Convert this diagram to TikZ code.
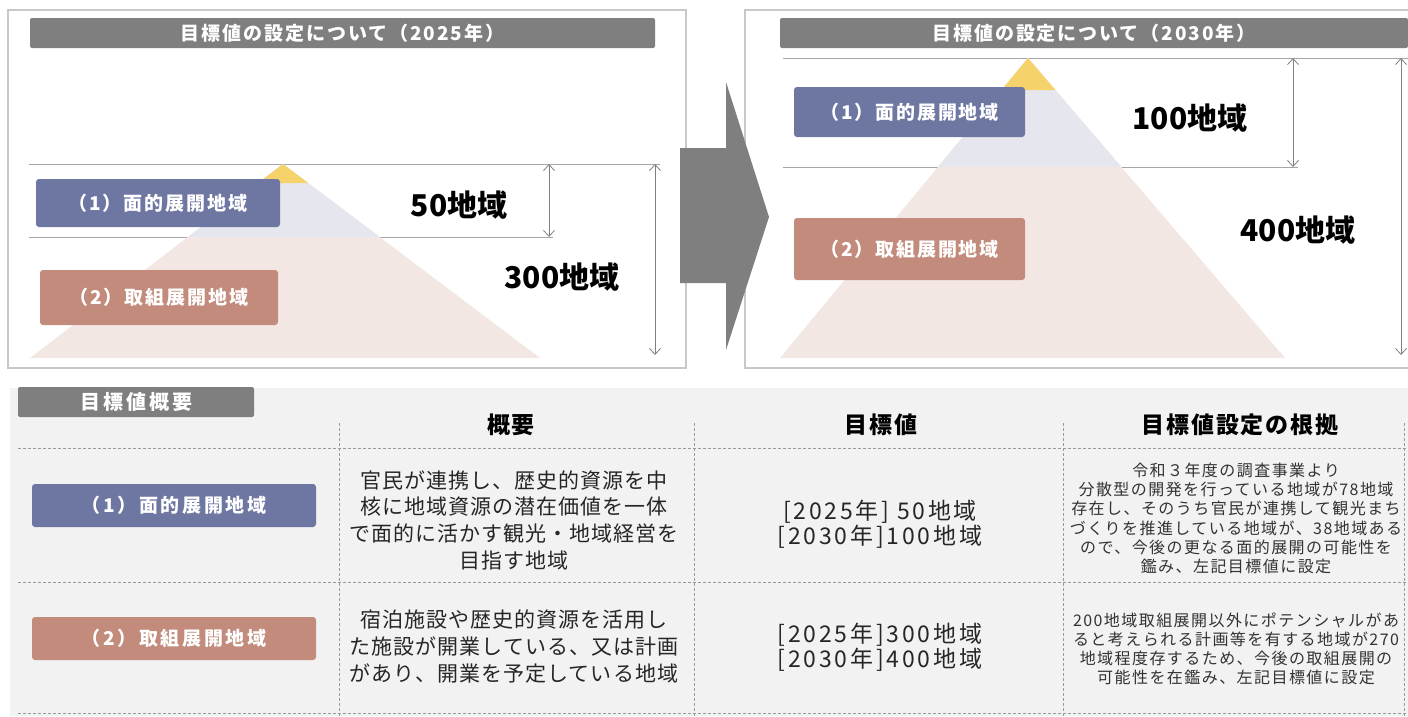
\documentclass[tikz,border=0pt]{standalone}
\usepackage{fontspec}
\setmainfont{Noto Sans CJK JP}
\usepackage{xcolor}
\usetikzlibrary{shapes,arrows.meta,positioning,calc}

\definecolor{bargray}{HTML}{7F7F7F}
\definecolor{framegray}{HTML}{C8C8C8}
\definecolor{linegray}{HTML}{A6A6A6}
\definecolor{areablue}{HTML}{6E76A2}
\definecolor{areasalmon}{HTML}{C28B7B}
\definecolor{pyrtip}{HTML}{F6D26B}
\definecolor{pyrupper}{HTML}{E6E6EF}
\definecolor{pyrlower}{HTML}{F3E7E4}
\definecolor{tablebg}{HTML}{F2F2F2}
\definecolor{dashgray}{HTML}{9A9A9A}

\newcommand{\jfs}[3]{\fontsize{#1}{#2}\selectfont\addfontfeature{LetterSpace=#3}}

\tikzset{
    titlebar/.style={fill=bargray, rounded corners=2pt, text=white, inner sep=0pt, font=\bfseries\jfs{19}{19}{10}},
    areabox/.style={rounded corners=3pt, text=white, inner sep=0pt, font=\bfseries\jfs{19}{19}{10}},
    bignum/.style={inner sep=0pt, font=\bfseries\jfs{30}{30}{0}},
    levelline/.style={draw=linegray, line width=1pt},
    dimarrow/.style={draw=gray, line width=0.8pt, {Straight Barb[length=6pt,width=11pt]}-{Straight Barb[length=6pt,width=11pt]}},
    panel/.style={draw=framegray, line width=1.2pt},
    gridline/.style={draw=dashgray, line width=0.8pt, dash pattern=on 3pt off 2pt},
    colhead/.style={inner sep=0pt, font=\bfseries\jfs{23}{23}{8}},
    cellmain/.style={align=center, inner sep=0pt, text=black!85, font=\jfs{21}{26.7}{5}},
    cellvalue/.style={align=center, inner sep=0pt, text=black!85, font=\jfs{23}{25}{12}},
    cellnote/.style={align=center, inner sep=0pt, text=black!80, font=\jfs{16}{19.2}{9}}
}

\begin{document}
\begin{tikzpicture}[x=1pt,y=-1pt]
    \useasboundingbox (0,0) rectangle (1408,716);

    \draw[panel] (8,10) rectangle (686,368);
    \draw[panel] (745,10) rectangle (1412,368);

    \node[titlebar, minimum width=625pt, minimum height=30pt] (title25) at (342.5,33) {目標値の設定について（2025年）};
    \node[titlebar, minimum width=628pt, minimum height=30pt] (title30) at (1094,33) {目標値の設定について（2030年）};

    \draw[levelline] (29,164) -- (660,164);
    \draw[levelline] (29,237) -- (553,237);
    \draw[levelline] (783,58) -- (1408,58);
    \draw[levelline] (783,167) -- (1298,167);

    \coordinate (apex25) at (283,164);
    \coordinate (bl25) at (30,358);
    \coordinate (br25) at (540,358);
    \fill[pyrlower] (apex25) -- (bl25) -- (br25) -- cycle;
    \fill[pyrupper] (apex25) -- ($(apex25)!0.376!(bl25)$) -- ($(apex25)!0.376!(br25)$) -- cycle;
    \fill[pyrtip] (apex25) -- ($(apex25)!0.098!(bl25)$) -- ($(apex25)!0.098!(br25)$) -- cycle;

    \coordinate (apex30) at (1028,58);
    \coordinate (bl30) at (780,358);
    \coordinate (br30) at (1285,358);
    \fill[pyrlower] (apex30) -- (bl30) -- (br30) -- cycle;
    \fill[pyrupper] (apex30) -- ($(apex30)!0.363!(bl30)$) -- ($(apex30)!0.363!(br30)$) -- cycle;
    \fill[pyrtip] (apex30) -- ($(apex30)!0.107!(bl30)$) -- ($(apex30)!0.107!(br30)$) -- cycle;

    \node[areabox, fill=areablue, minimum width=244pt, minimum height=48pt] (menA25) at (158,203) {（1）面的展開地域};
    \node[areabox, fill=areasalmon, minimum width=238pt, minimum height=55pt] (toriA25) at (159,297.5) {（2）取組展開地域};
    \node[areabox, fill=areablue, minimum width=231pt, minimum height=50pt] (menA30) at (909.5,112) {（1）面的展開地域};
    \node[areabox, fill=areasalmon, minimum width=231pt, minimum height=62pt] (toriA30) at (909.5,249) {（2）取組展開地域};

    \node[bignum] (num50) at (459,205) {50地域};
    \node[bignum] (num300) at (562,277) {300地域};
    \node[bignum] (num100) at (1190,118) {100地域};
    \node[bignum] (num400) at (1298,230) {400地域};

    \coordinate (dimAtop) at (549,164);
    \coordinate (dimAbot) at (549,237);
    \coordinate (dimBtop) at (655,164);
    \coordinate (dimBbot) at (655,355);
    \coordinate (dimCtop) at (1293,58);
    \coordinate (dimCbot) at (1293,167);
    \coordinate (dimDtop) at (1401,58);
    \coordinate (dimDbot) at (1401,355);
    \draw[dimarrow] (dimAtop) -- (dimAbot);
    \draw[dimarrow] (dimBtop) -- (dimBbot);
    \draw[dimarrow] (dimCtop) -- (dimCbot);
    \draw[dimarrow] (dimDtop) -- (dimDbot);

    \fill[bargray] (680,148) -- (726,148) -- (726,82) -- (769,217) -- (726,350) -- (726,283) -- (680,283) -- cycle;

    \fill[tablebg] (10,388) rectangle (1408,716);
    \node[titlebar, font=\bfseries\jfs{20}{20}{15}, minimum width=236pt, minimum height=30pt] (overview) at (136,402) {目標値概要};

    \draw[gridline] (18,448) -- (1408,448);
    \draw[gridline] (18,582) -- (1408,582);
    \draw[gridline] (18,713) -- (1408,713);
    \foreach \cx in {339,694,1063,1404}
        \draw[gridline] (\cx,423) -- (\cx,716);

    \node[colhead] (headSummary) at (511,425) {概要};
    \node[colhead] (headTarget) at (881,425) {目標値};
    \node[colhead] (headBasis) at (1240,425) {目標値設定の根拠};

    \node[areabox, font=\bfseries\jfs{19}{19}{14}, fill=areablue, minimum width=284pt, minimum height=43pt] (menRow) at (174,505.5) {（1）面的展開地域};
    \node[areabox, font=\bfseries\jfs{19}{19}{14}, fill=areasalmon, minimum width=284pt, minimum height=43pt] (toriRow) at (174,638.5) {（2）取組展開地域};

    \node[cellmain] (menSummary) at (514,520) {官民が連携し、歴史的資源を中\\核に地域資源の潜在価値を一体\\で面的に活かす観光・地域経営を\\目指す地域};
    \node[cellmain] (toriSummary) at (514,646.5) {宿泊施設や歴史的資源を活用し\\た施設が開業している、又は計画\\があり、開業を予定している地域};

    \node[cellvalue] (menTarget) at (880,524.5) {[2025年] 50地域\\{}[2030年]100地域};
    \node[cellvalue] (toriTarget) at (880,647.5) {[2025年]300地域\\{}[2030年]400地域};

    \node[cellnote] (menBasis) at (1236,518.5) {令和３年度の調査事業より\\分散型の開発を行っている地域が78地域\\存在し、そのうち官民が連携して観光まち\\づくりを推進している地域が、38地域ある\\ので、今後の更なる面的展開の可能性を\\鑑み、左記目標値に設定};
    \node[cellnote] (toriBasis) at (1236,649) {200地域取組展開以外にポテンシャルがあ\\ると考えられる計画等を有する地域が270\\地域程度存するため、今後の取組展開の\\可能性を在鑑み、左記目標値に設定};
\end{tikzpicture}
\end{document}
